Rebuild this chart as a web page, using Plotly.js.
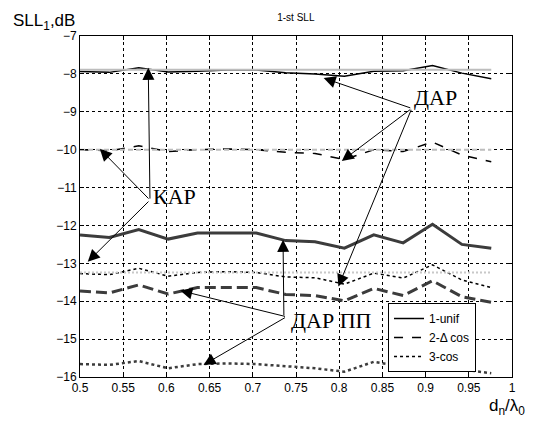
<!DOCTYPE html>
<html>
<head>
<meta charset="utf-8">
<script src="https://cdn.plot.ly/plotly-3.0.1.min.js"></script>
<style>html,body{margin:0;padding:0;background:#fff;}#chart{width:535px;height:426px;}</style>
</head>
<body>
<div id="chart"></div>
<script>
// d_n / lambda_0 sample points
var xVals = [0.5, 0.534, 0.568, 0.602, 0.636, 0.670, 0.704, 0.738, 0.772, 0.806, 0.840, 0.874, 0.908, 0.942, 0.976];

// ДАР (thin black lines)
var darUnif = [-7.94, -7.96, -7.84, -7.95, -7.93, -7.90, -7.90, -7.97, -8.00, -8.06, -7.93, -7.92, -7.78, -7.98, -8.13];
var darDcos = [-10.0, -10.03, -9.90, -10.05, -10.0, -9.98, -10.0, -10.07, -10.10, -10.26, -10.0, -10.05, -9.80, -10.14, -10.32];
var darCos  = [-13.27, -13.30, -13.13, -13.34, -13.24, -13.22, -13.24, -13.36, -13.38, -13.55, -13.26, -13.39, -13.04, -13.44, -13.64];

// ДАР ПП (thick dark grey lines)
var ppUnif = [-12.25, -12.32, -12.11, -12.36, -12.20, -12.20, -12.20, -12.40, -12.43, -12.60, -12.25, -12.46, -11.97, -12.50, -12.60];
var ppDcos = [-13.73, -13.78, -13.57, -13.81, -13.64, -13.64, -13.64, -13.82, -13.85, -13.99, -13.66, -13.85, -13.46, -13.88, -14.03];
var ppCos  = [-15.66, -15.68, -15.58, -15.77, -15.66, -15.64, -15.66, -15.72, -15.77, -15.86, -15.60, -15.72, -15.75, -15.80, -15.90];

// КАР (light grey reference levels)
var karUnif = [-7.89, -7.89, -7.89, -7.89, -7.89, -7.89, -7.89, -7.89, -7.89, -7.89, -7.89, -7.89, -7.89, -7.89, -7.89];
var karDcos = [-10.0, -10.0, -10.0, -10.0, -10.0, -10.0, -10.0, -10.0, -10.0, -10.0, -10.0, -10.0, -10.0, -10.0, -10.0];
var karCos  = [-13.24, -13.24, -13.24, -13.24, -13.24, -13.24, -13.24, -13.24, -13.24, -13.24, -13.24, -13.24, -13.24, -13.24, -13.24];

var legendNames = ['1-unif', '2-\u0394 cos', '3-cos'];
var xTicks = [0.5, 0.55, 0.6, 0.65, 0.7, 0.75, 0.8, 0.85, 0.9, 0.95, 1];
var xTickText = ['0.5', '0.55', '0.6', '0.65', '0.7', '0.75', '0.8', '0.85', '0.9', '0.95', '1'];
var yTicks = [-16, -15, -14, -13, -12, -11, -10, -9, -8, -7];

var FONT = 'Arial, "Liberation Sans", sans-serif';
var SERIF = '"Times New Roman", "Liberation Serif", serif';

function tr(y, name, color, width, dash, legend) {
  return {x: xVals, y: y, type: 'scatter', mode: 'lines', name: name,
    showlegend: legend, hoverinfo: 'skip',
    line: {color: color, width: width, dash: dash}};
}

var data = [
  tr(darUnif, legendNames[0], '#000', 1.5, 'solid', true),
  tr(darDcos, legendNames[1], '#000', 1.5, 'dash', true),
  tr(darCos, legendNames[2], '#000', 1.5, 'dot', true),
  tr(ppUnif, 'pp1', '#3c3c3c', 3, 'solid', false),
  tr(ppDcos, 'pp2', '#3c3c3c', 3, '11px,5px', false),
  tr(ppCos, 'pp3', '#3c3c3c', 2.5, '3px,3px', false),
  tr(karUnif, 'k1', '#bdbdbd', 2, 'solid', false),
  tr(karDcos, 'k2', '#bdbdbd', 2, '5px,3px', false),
  tr(karCos, 'k3', '#c8c8c8', 2, '2px,2px', false)
];

function arrow(tx, ty, hx, hy) {
  return {x: hx, y: hy, ax: tx, ay: ty, xref: 'x', yref: 'y', axref: 'x', ayref: 'y',
    text: '', showarrow: true, arrowhead: 2, arrowsize: 2.4, arrowwidth: 1,
    arrowcolor: '#000', standoff: 0, startstandoff: 0};
}

var annotations = [
  // КАР
  arrow(0.581, -11.33, 0.523, -9.98),
  arrow(0.581, -11.33, 0.579, -7.84),
  arrow(0.581, -11.33, 0.509, -12.96),
  // ДАР
  arrow(0.884, -8.91, 0.782, -8.11),
  arrow(0.884, -8.91, 0.803, -10.30),
  arrow(0.884, -8.91, 0.799, -13.61),
  // ДАР ПП
  arrow(0.739, -14.41, 0.616, -13.72),
  arrow(0.739, -14.41, 0.643, -15.68),
  arrow(0.736, -14.41, 0.735, -12.38),
  {x: 0.582, y: -11.24, xref: 'x', yref: 'y', text: 'КАР', showarrow: false,
    xanchor: 'left', yanchor: 'middle', font: {family: SERIF, size: 22, color: '#000'}},
  {x: 0.884, y: -8.62, xref: 'x', yref: 'y', text: 'ДАР', showarrow: false,
    xanchor: 'left', yanchor: 'middle', font: {family: SERIF, size: 22, color: '#000'}},
  {x: 0.742, y: -14.5, xref: 'x', yref: 'y', text: 'ДАР ПП', showarrow: false,
    xanchor: 'left', yanchor: 'middle', font: {family: SERIF, size: 22, color: '#000'}},
  // axis titles placed as paper annotations
  {x: -0.16, y: 1.0, xref: 'paper', yref: 'paper', xanchor: 'left', yanchor: 'bottom',
    yshift: 1, text: 'SLL<sub>1</sub>,dB', showarrow: false,
    font: {family: FONT, size: 17, color: '#000'}},
  {x: 1.035, y: -0.05, xref: 'paper', yref: 'paper', xanchor: 'right', yanchor: 'top',
    text: 'd<sub>n</sub>/\u03bb<sub>0</sub>', showarrow: false,
    font: {family: FONT, size: 17, color: '#000'}}
];

var axisCommon = {
  showline: true, linecolor: '#000', linewidth: 1, mirror: 'ticks',
  ticks: 'inside', ticklen: 4, tickcolor: '#000',
  showgrid: true, gridcolor: '#000', gridwidth: 1, griddash: '3px,3px',
  zeroline: false, tickfont: {family: FONT, size: 12, color: '#000'}
};

var layout = {
  width: 535, height: 426,
  margin: {l: 80, r: 23, t: 36, b: 49},
  paper_bgcolor: '#fff', plot_bgcolor: '#fff',
  title: {text: '1-st SLL', font: {family: FONT, size: 10, color: '#000'},
    x: 0.553, xanchor: 'center', y: 0.958, yanchor: 'middle'},
  xaxis: Object.assign({}, axisCommon, {range: [0.5, 1], tickvals: xTicks, ticktext: xTickText}),
  yaxis: Object.assign({}, axisCommon, {range: [-16, -7], tickvals: yTicks}),
  showlegend: true,
  legend: {x: 0.713, y: 0.217, xanchor: 'left', yanchor: 'top',
    bgcolor: '#fff', bordercolor: '#000', borderwidth: 1,
    font: {family: FONT, size: 12, color: '#000'}, tracegroupgap: 0},
  annotations: annotations
};

Plotly.newPlot('chart', data, layout, {staticPlot: true, displayModeBar: false});
</script>
</body>
</html>
